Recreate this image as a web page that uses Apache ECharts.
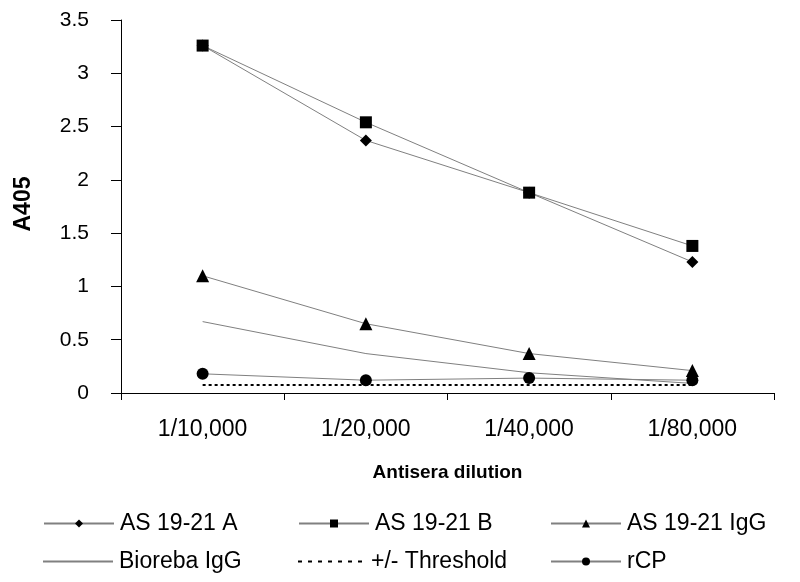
<!DOCTYPE html>
<html><head><meta charset="utf-8">
<script src="https://cdn.jsdelivr.net/npm/echarts@6/dist/echarts.min.js"></script>
<style>html,body{margin:0;padding:0;background:#fff}#c{width:800px;height:582px}</style>
</head><body><div id="c"></div>
<script>
const categories = ['1/10,000', '1/20,000', '1/40,000', '1/80,000'];
const asA = [3.26, 2.37, 1.88, 1.23];
const asB = [3.26, 2.54, 1.88, 1.38];
const asIgG = [1.10, 0.65, 0.37, 0.21];
const bioreba = [0.67, 0.37, 0.19, 0.09];
const threshold = [0.075, 0.075, 0.075, 0.075];
const rCP = [0.18, 0.12, 0.14, 0.12];
const yTicks = [0, 0.5, 1, 1.5, 2, 2.5, 3, 3.5];

const FONT = '"Liberation Sans", Arial, sans-serif';
const grey = '#808080';
function mk(name, data, symbol, size) {
  return {
    name, type: 'line', data, symbol: symbol || 'none', symbolSize: size || 0,
    showSymbol: !!symbol,
    lineStyle: {color: grey, width: 1, type: 'solid'},
    itemStyle: {color: '#000', borderWidth: 0},
    emphasis: {disabled: true}, animation: false, z: 3
  };
}
const series = [
  mk('AS 19-21 A', asA, 'diamond', 12),
  mk('AS 19-21 B', asB, 'rect', 12),
  mk('AS 19-21 IgG', asIgG, 'triangle', 13),
  mk('Bioreba IgG', bioreba, null, 0),
  mk('+/- Threshold', threshold, null, 0),
  mk('rCP', rCP, 'circle', 12)
];
series[4].lineStyle = {color: '#000', width: 2, type: [3, 3]};
series[4].itemStyle = {color: '#000'};
series[3].itemStyle = {color: grey};

const dashPath = 'path://M0,0h4v2h-4z M10,0h4v2h-4z M20,0h4v2h-4z M30,0h4v2h-4z M40,0h4v2h-4z M50,0h4v2h-4z M60,0h4v2h-4z';
const legendPos = [[38, 507], [293, 507], [545, 507], [38, 545], [293, 545], [545, 545]];
const legends = series.map((s, i) => {
  const item = {name: s.name};
  let h = 10;
  if (i === 3) { item.icon = 'rect'; h = 2; item.itemStyle = {color: grey}; }
  if (i === 4) { item.icon = dashPath; h = 2; item.itemStyle = {color: '#000'}; }
  return {
    data: [item], left: legendPos[i][0], top: legendPos[i][1],
    itemWidth: 70, itemHeight: h, itemGap: 0,
    textStyle: {fontFamily: FONT, fontSize: 23, color: '#000', padding: [0, 0, 0, 1]},
    selectedMode: false
  };
});

const chart = echarts.init(document.getElementById('c'));
chart.setOption({
  animation: false,
  backgroundColor: '#fff',
  grid: {left: 121, right: 26, top: 20, bottom: 189, containLabel: false},
  legend: legends,
  graphic: [{
    type: 'text', x: 24, y: 204, rotation: Math.PI / 2,
    style: {text: 'A405', font: 'bold 23px ' + FONT, fill: '#000', align: 'center', verticalAlign: 'middle'}
  }],
  xAxis: {
    type: 'category', data: categories, boundaryGap: true,
    name: 'Antisera dilution', nameLocation: 'middle', nameGap: 70,
    nameTextStyle: {fontFamily: FONT, fontSize: 19, fontWeight: 'bold', color: '#000'},
    axisLine: {lineStyle: {color: '#000', width: 1}},
    axisTick: {show: true, length: 7, lineStyle: {color: '#000'}},
    axisLabel: {fontFamily: FONT, fontSize: 23, color: '#000', margin: 25},
    splitLine: {show: false}
  },
  yAxis: {
    type: 'value', min: 0, max: 3.5, interval: 0.5,
    axisLine: {show: true, lineStyle: {color: '#000', width: 1}},
    axisTick: {show: true, length: 10, lineStyle: {color: '#000'}},
    axisLabel: {fontFamily: FONT, fontSize: 21, color: '#000', margin: 32,
      formatter: v => yTicks.includes(v) ? String(v) : ''},
    splitLine: {show: false}
  },
  series
});
</script></body></html>
